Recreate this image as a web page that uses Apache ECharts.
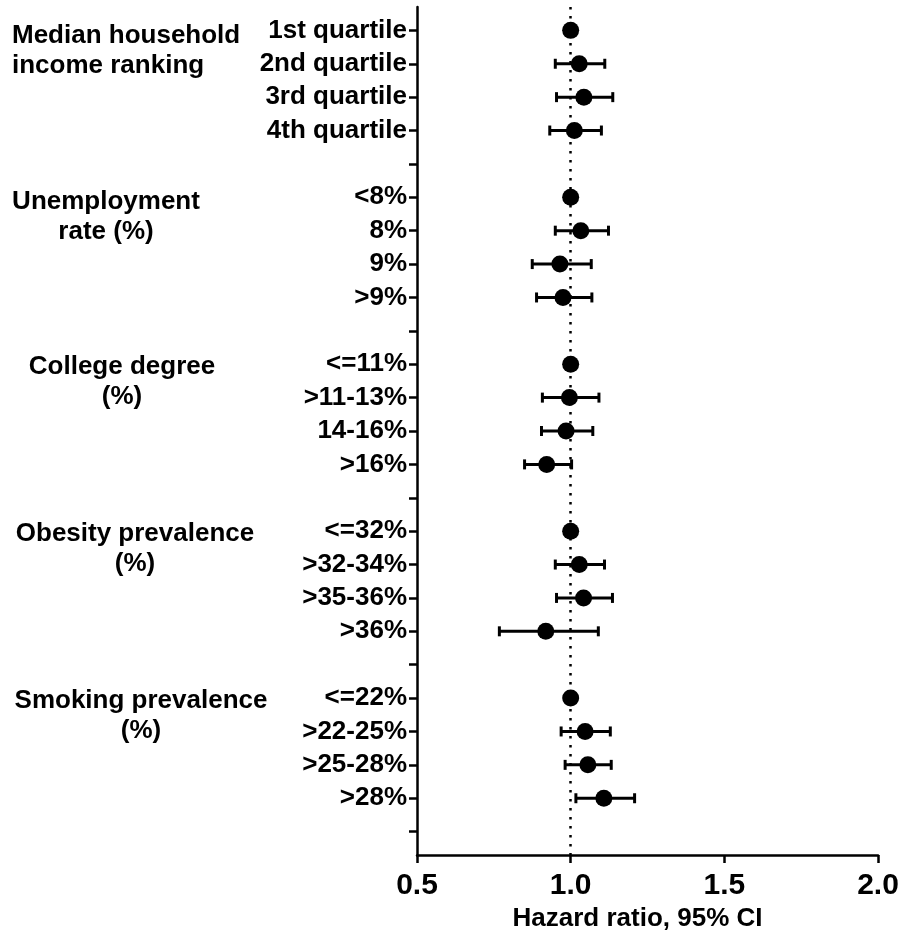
<!DOCTYPE html>
<html>
<head>
<meta charset="utf-8">
<script src="https://cdn.jsdelivr.net/npm/echarts@6/dist/echarts.min.js"></script>
<style>
html,body{margin:0;padding:0;background:#fff;}
#chart{width:904px;height:942px;}
</style>
</head>
<body>
<div id="chart"></div>
<script>
// Row labels (top to bottom); '' = blank spacer row
const rowLabels = ['1st quartile','2nd quartile','3rd quartile','4th quartile','',
  '<8%','8%','9%','>9%','',
  '<=11%','>11-13%','14-16%','>16%','',
  '<=32%','>32-34%','>35-36%','>36%','',
  '<=22%','>22-25%','>25-28%','>28%',''];
// Hazard ratios
const hr = [1.0,1.028,1.043,1.012,null,
  1.0,1.033,0.965,0.975,null,
  1.0,0.996,0.985,0.922,null,
  1.0,1.028,1.042,0.919,null,
  1.0,1.047,1.056,1.108,null];
// Lower 95% CI
const lo = [null,0.950,0.954,0.932,null,
  null,0.950,0.875,0.889,null,
  null,0.908,0.905,0.850,null,
  null,0.950,0.954,0.768,null,
  null,0.969,0.982,1.017,null];
// Upper 95% CI
const hi = [null,1.111,1.137,1.100,null,
  null,1.123,1.067,1.069,null,
  null,1.092,1.072,1.003,null,
  null,1.110,1.136,1.090,null,
  null,1.129,1.132,1.208,null];
// Group names
const groupNames = ['Median household\nincome ranking','Unemployment\nrate (%)','College degree\n(%)','Obesity prevalence\n(%)','Smoking prevalence\n(%)'];
const xTicks = [0.5, 1.0, 1.5, 2.0];

const FONT = "'Liberation Sans', Arial, Helvetica, sans-serif";
const positions = rowLabels.map((_, i) => i + 1);
const labelPositions = positions.filter((p, i) => rowLabels[i] !== '');

const chart = echarts.init(document.getElementById('chart'), null, {renderer: 'canvas'});

const pointData = [];
const barData = [];
hr.forEach((v, i) => {
  if (v !== null) pointData.push([v, i + 1]);
  if (lo[i] !== null && hi[i] !== null) barData.push([lo[i], hi[i], i + 1]);
});

// group label layout
const groupLayout = [
  {x: 12, y: 21, align: 'left'},
  {x: 106, y: 187, align: 'center'},
  {x: 122, y: 352, align: 'center'},
  {x: 135, y: 519, align: 'center'},
  {x: 141, y: 686, align: 'center'}
];

const graphics = groupNames.map((t, i) => ({
  type: 'text',
  x: groupLayout[i].x,
  y: groupLayout[i].y,
  style: {
    text: t,
    font: 'bold 26px ' + FONT,
    fill: '#000',
    align: groupLayout[i].align,
    verticalAlign: 'top',
    lineHeight: 30
  }
}));

chart.setOption({
  animation: false,
  backgroundColor: '#fff',
  grid: {left: 417, right: 26, top: 7, bottom: 87, outerBoundsMode: 'none'},
  xAxis: {
    type: 'value',
    min: 0.5, max: 2.0, interval: 0.5,
    splitLine: {show: false},
    axisLine: {show: true, lineStyle: {color: '#000', width: 2.5}},
    axisTick: {show: true, length: 8, lineStyle: {color: '#000', width: 2.5}},
    axisLabel: {
      color: '#000', fontSize: 30, fontWeight: 'bold', fontFamily: FONT, margin: 16,
      formatter: v => v.toFixed(1)
    },
    name: 'Hazard ratio, 95% CI',
    nameLocation: 'middle',
    nameGap: 51,
    nameTextStyle: {color: '#000', fontSize: 26, fontWeight: 'bold', fontFamily: FONT, padding: [0, 20, 0, 0]}
  },
  yAxis: {
    type: 'value',
    inverse: true,
    min: 0.3, max: 25.7,
    splitLine: {show: false},
    axisLine: {show: true, lineStyle: {color: '#000', width: 2.5}},
    axisTick: {show: true, length: 8, lineStyle: {color: '#000', width: 2.5}, customValues: positions},
    axisLabel: {
      color: '#000', fontSize: 26, fontWeight: 'bold', fontFamily: FONT, margin: 10,
      padding: [5, 0, 0, 0],
      customValues: labelPositions,
      formatter: v => rowLabels[Math.round(v) - 1] || ''
    }
  },
  graphic: graphics,
  series: [
    {
      type: 'custom',
      data: barData,
      z: 2,
      renderItem: function (params, api) {
        const y = api.value(2);
        const p1 = api.coord([api.value(0), y]);
        const p2 = api.coord([api.value(1), y]);
        const cap = 5;
        const st = {stroke: '#000', lineWidth: 3};
        return {
          type: 'group',
          children: [
            {type: 'line', shape: {x1: p1[0], y1: p1[1], x2: p2[0], y2: p2[1]}, style: st},
            {type: 'line', shape: {x1: p1[0], y1: p1[1] - cap, x2: p1[0], y2: p1[1] + cap}, style: st},
            {type: 'line', shape: {x1: p2[0], y1: p2[1] - cap, x2: p2[0], y2: p2[1] + cap}, style: st}
          ]
        };
      },
      markLine: {
        silent: true,
        symbol: ['none', 'none'],
        label: {show: false},
        lineStyle: {color: '#000', type: [2.5, 6.5], width: 2.5},
        data: [{xAxis: 1.0}]
      }
    },
    {
      type: 'scatter',
      data: pointData,
      symbol: 'circle',
      symbolSize: 17,
      z: 3,
      itemStyle: {color: '#000', opacity: 1}
    }
  ]
});
</script>
</body>
</html>
